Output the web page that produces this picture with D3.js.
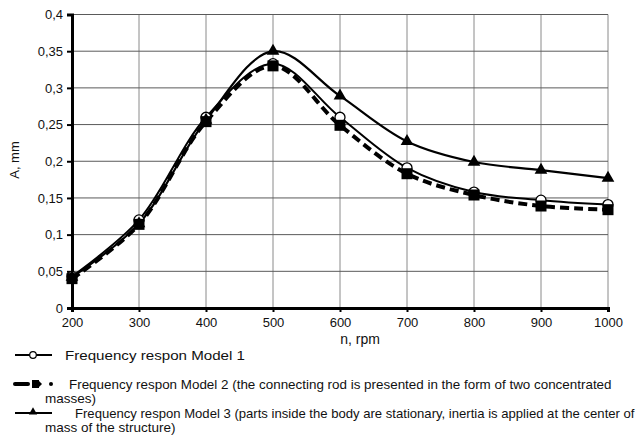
<!DOCTYPE html>
<html><head><meta charset="utf-8">
<script src="https://cdn.jsdelivr.net/npm/d3@7"></script>
<style>body{margin:0;background:#fff}svg{display:block}text{font-family:"Liberation Sans",Arial,sans-serif;fill:#111}</style>
</head><body>
<svg id="c" width="644" height="436"></svg>
<script>
const rpm = [200, 300, 400, 500, 600, 700, 800, 900, 1000];
const model1 = [0.043, 0.120, 0.260, 0.333, 0.260, 0.191, 0.158, 0.147, 0.141];
const model2 = [0.040, 0.114, 0.254, 0.330, 0.249, 0.183, 0.154, 0.139, 0.134];
const model3 = [0.042, 0.115, 0.256, 0.350, 0.289, 0.227, 0.199, 0.188, 0.177];
const yTicks = [0, 0.05, 0.1, 0.15, 0.2, 0.25, 0.3, 0.35, 0.4];
const legendLabels = [
  ["Frequency respon Model 1"],
  ["Frequency respon Model 2 (the connecting rod is presented in the form of two concentrated", "masses)"],
  ["Frequency respon Model 3 (parts inside the body are stationary, inertia is applied at the center of", "mass of the structure)"]
];

const svg = d3.select("#c");
const x = d3.scaleLinear().domain([200, 1000]).range([72, 608]);
const y = d3.scaleLinear().domain([0, 0.4]).range([308, 14.5]);
const fmt = v => String(+v.toFixed(2)).replace(".", ",");

// grid
svg.append("g").selectAll("line").data(rpm.slice(1)).join("line")
  .attr("x1", d => x(d)).attr("x2", d => x(d)).attr("y1", y(0)).attr("y2", y(0.4))
  .attr("stroke", "#8a8a8a").attr("stroke-width", 1);
svg.append("g").selectAll("line").data(yTicks.slice(1)).join("line")
  .attr("x1", x(200)).attr("x2", x(1000)).attr("y1", d => y(d)).attr("y2", d => y(d))
  .attr("stroke", "#5a5a5a").attr("stroke-width", 1);

// axes
const ax = svg.append("g").attr("transform", `translate(0,${y(0)})`)
  .call(d3.axisBottom(x).tickValues(rpm).tickSize(4).tickPadding(8).tickFormat(d3.format("d")));
const ay = svg.append("g").attr("transform", `translate(${x(200)},0)`)
  .call(d3.axisLeft(y).tickValues(yTicks).tickSize(5).tickPadding(4).tickFormat(fmt));
[ax, ay].forEach(g => {
  g.select(".domain").attr("stroke", "#000").attr("stroke-width", 3);
  g.selectAll(".tick line").attr("stroke", "#000").attr("stroke-width", 2);
  g.selectAll(".tick text").attr("font-size", 13).attr("fill", "#111")
    .style("font-family", '"Liberation Sans",Arial,sans-serif');
});
ax.selectAll(".tick text").attr("dy", "0.55em");

svg.append("text").attr("x", 360).attr("y", 344).attr("text-anchor", "middle")
  .attr("font-size", 14).text("n, rpm");
svg.append("text").attr("transform", "translate(19,160) rotate(-90)").attr("text-anchor", "middle")
  .attr("font-size", 13).text("A, mm");

// lines
const line = d3.line().x((d, i) => x(rpm[i])).y(d => y(d)).curve(d3.curveCatmullRom.alpha(0.5));
svg.append("path").datum(model2).attr("d", line).attr("fill", "none")
  .attr("stroke", "#000").attr("stroke-width", 4).attr("stroke-dasharray", "9,5");
svg.append("path").datum(model1).attr("d", line).attr("fill", "none")
  .attr("stroke", "#000").attr("stroke-width", 2);
svg.append("path").datum(model3).attr("d", line).attr("fill", "none")
  .attr("stroke", "#000").attr("stroke-width", 2.2);

// markers
const tri = d3.symbol().type(d3.symbolTriangle).size(70);
svg.append("g").selectAll("circle").data(model1).join("circle")
  .attr("cx", (d, i) => x(rpm[i])).attr("cy", d => y(d)).attr("r", 5)
  .attr("fill", "#fff").attr("stroke", "#000").attr("stroke-width", 1.3);
svg.append("g").selectAll("rect").data(model2).join("rect")
  .attr("x", (d, i) => x(rpm[i]) - 5.5).attr("y", d => y(d) - 5.5)
  .attr("width", 11).attr("height", 11).attr("fill", "#000");
svg.append("g").selectAll("path").data(model3).join("path")
  .attr("d", tri).attr("transform", (d, i) => `translate(${x(rpm[i])},${y(d)})`)
  .attr("fill", "#000");

// legend
const lg = svg.append("g");
lg.append("line").attr("x1", 15).attr("x2", 52).attr("y1", 355).attr("y2", 355)
  .attr("stroke", "#000").attr("stroke-width", 2);
lg.append("circle").attr("cx", 33).attr("cy", 355).attr("r", 3.3)
  .attr("fill", "#fff").attr("stroke", "#000").attr("stroke-width", 1.2);
lg.append("line").attr("x1", 15).attr("x2", 28).attr("y1", 384).attr("y2", 384)
  .attr("stroke", "#000").attr("stroke-width", 4).attr("stroke-linecap", "round");
lg.append("rect").attr("x", 32).attr("y", 380).attr("width", 7).attr("height", 8).attr("fill", "#000");
lg.append("path").attr("d", "M39,381L42,384L39,387Z").attr("fill", "#000");
lg.append("circle").attr("cx", 51).attr("cy", 384).attr("r", 2).attr("fill", "#000");
lg.append("line").attr("x1", 15).attr("x2", 52).attr("y1", 413).attr("y2", 413)
  .attr("stroke", "#000").attr("stroke-width", 2);
lg.append("path").attr("d", d3.symbol().type(d3.symbolTriangle).size(30))
  .attr("transform", "translate(33,412)").attr("fill", "#000");

const rows = [
  {x: 65, y: 360, w: 180, t: legendLabels[0][0]},
  {x: 69, y: 389, w: 543, t: legendLabels[1][0]},
  {x: 45, y: 403, w: null, t: legendLabels[1][1]},
  {x: 75, y: 418, w: 560, t: legendLabels[2][0]},
  {x: 45, y: 432, w: null, t: legendLabels[2][1]}
];
lg.selectAll("text.l").data(rows).join("text").attr("class", "l")
  .attr("x", d => d.x).attr("y", d => d.y).attr("font-size", 13.5)
  .text(d => d.t)
  .each(function (d) {
    if (!d.w) return;
    const nat = this.getComputedTextLength();
    if (nat > d.w) {
      d3.select(this).attr("font-size", 13.5 * d.w / nat);
    } else {
      d3.select(this).attr("textLength", d.w).attr("lengthAdjust", "spacingAndGlyphs");
    }
  });
</script>
</body></html>
